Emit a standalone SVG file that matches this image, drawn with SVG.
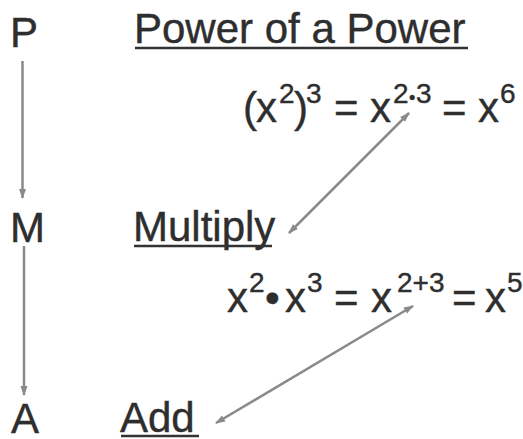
<svg xmlns="http://www.w3.org/2000/svg" width="523" height="439" viewBox="0 0 523 439">
<style>
text{font-family:"Liberation Sans",Arial,sans-serif;fill:#2e2e2e;stroke:#2e2e2e;stroke-width:0.4;}
.big{font-size:42px;}
.sup{font-size:28px;}
.ul{stroke:#333;stroke-width:2.5;}
.conn{stroke:#8a8a8a;stroke-width:2.5;fill:none;}
</style>
<defs>
<marker id="ah" viewBox="0 0 10 10" refX="9" refY="5" markerWidth="4.5" markerHeight="4" orient="auto-start-reverse" markerUnits="strokeWidth">
<path d="M0,1.5 L10,5 L0,8.5 z" fill="#8a8a8a"/>
</marker>
</defs>
<rect width="523" height="439" fill="#fff"/>
<g id="P"><text class="big" x="10" y="47">P</text></g>
<g id="M"><text class="big" x="10" y="242">M</text></g>
<g id="A"><text class="big" x="11" y="433">A</text></g>
<g id="title"><text class="big" x="134" y="43">Power of a Power</text><line class="ul" x1="135" y1="48" x2="468" y2="48"/></g>
<g id="multiply"><text class="big" x="133" y="241">Multiply</text><line class="ul" x1="134" y1="246" x2="272" y2="246"/></g>
<g id="add"><text class="big" x="120" y="432">Add</text><line class="ul" x1="121" y1="436" x2="199" y2="436"/></g>
<g id="eq1"><text class="big" y="122"><tspan x="243">(</tspan><tspan x="256">x</tspan><tspan class="sup" x="279" y="103">2</tspan><tspan x="294" y="122">)</tspan><tspan class="sup" x="306" y="103">3</tspan><tspan x="334" y="122">=</tspan><tspan x="370">x</tspan><tspan class="sup" x="393" y="103">2</tspan><tspan class="sup" x="409" y="104" style="font-size:18px">•</tspan><tspan class="sup" x="416" y="103">3</tspan><tspan x="442" y="122">=</tspan><tspan x="478">x</tspan><tspan class="sup" x="500" y="103">6</tspan></text></g>
<g id="eq2"><text class="big" y="312"><tspan x="227">x</tspan><tspan class="sup" x="249" y="292">2</tspan><tspan x="265" y="312">•</tspan><tspan x="285">x</tspan><tspan class="sup" x="307" y="292">3</tspan><tspan x="334" y="312">=</tspan><tspan x="371">x</tspan><tspan class="sup" x="397" y="292">2+3</tspan><tspan x="452" y="312">=</tspan><tspan x="485">x</tspan><tspan class="sup" x="507" y="292">5</tspan></text></g>
<g id="connectors">
<line class="conn" x1="22.5" y1="61" x2="22.5" y2="198" marker-end="url(#ah)"/>
<line class="conn" x1="24" y1="246" x2="24" y2="395" marker-end="url(#ah)"/>
<line class="conn" x1="409" y1="113" x2="289" y2="233" marker-start="url(#ah)" marker-end="url(#ah)"/>
<line class="conn" x1="413" y1="306" x2="216" y2="423" marker-start="url(#ah)" marker-end="url(#ah)"/>
</g>
</svg>
